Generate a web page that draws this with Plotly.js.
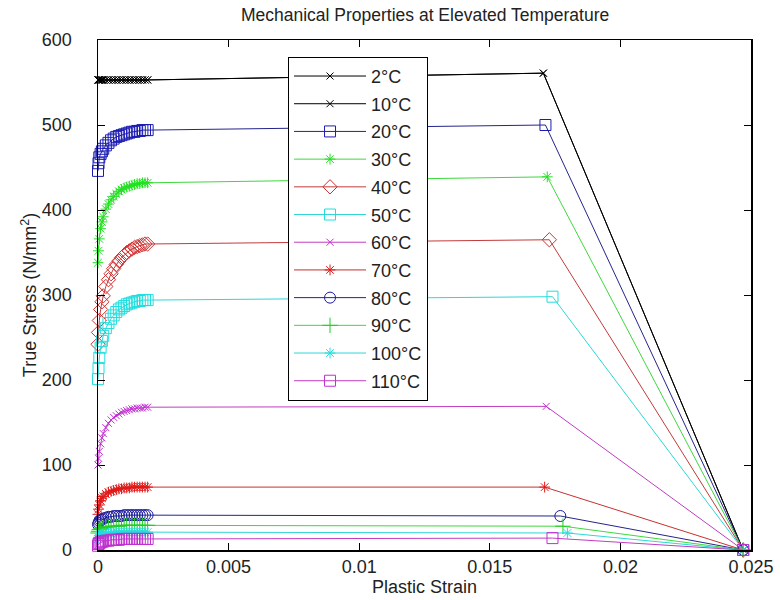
<!DOCTYPE html>
<html>
<head>
<meta charset="utf-8">
<script src="https://cdn.plot.ly/plotly-3.0.1.min.js"></script>
<style>html,body{margin:0;padding:0;background:#fff}#chart{width:780px;height:600px}</style>
</head>
<body>
<div id="chart"></div>
<script>
// Category labels
const labels = ["2°C","10°C","20°C","30°C","40°C","50°C","60°C","70°C","80°C","90°C","100°C","110°C"];

// Plastic strain of the early (hardening) points, shared by all series
const strainEarly = [0, 0.00002, 0.00005, 0.0001, 0.00015, 0.0002, 0.0003, 0.0004, 0.0005, 0.0006, 0.0007, 0.0008, 0.0009, 0.001, 0.0011, 0.0012, 0.0013, 0.0014, 0.0015, 0.0016, 0.0017, 0.0018, 0.0019];

// Early true stress values per temperature
const s2   = [553,553,553,553,553,553,553,553,553,553,553,553,553,553,553,553,553,553,553,553,553,553,553];
const s10  = [553,553,553,553,553,553,553,553,553,553,553,553,553,553,553,553,553,553,553,553,553,553,553];
const s20  = [446,455,462,466,469,472,476,479,482,484,486,487,488,489,490,491,492,492,493,493,494,494,494];
const s30  = [338,352,366,378,386,392,401,407,412,416,419,422,424,426,427,428,429,430,431,431,432,432,432];
const s40  = [242,256,270,283,292,299,310,318,325,331,336,340,344,347,350,352,354,356,357,358,359,360,360];
const s50  = [201,214,226,238,246,252,261,267,272,276,280,283,285,287,289,290,291,292,293,293,294,294,294];
const s60  = [100,108,116,125,132,137,144,149,153,156,158,160,162,163,164,165,166,166,167,167,167,168,168];
const s70  = [42,48,53,58,61,63,66,68,69,70,71,72,72,73,73,73,74,74,74,74,74,74,74];
const s80  = [30,32,34,35,36,37,38,39,39,40,40,40,40,41,41,41,41,41,41,41,41,41,41];
const s90  = [20,22,24,25,26,26,27,27,28,28,28,28,29,29,29,29,29,29,29,29,29,29,29];
const s100 = [13,15,17,18,19,19,20,20,20,21,21,21,21,21,21,21,21,21,21,21,21,21,21];
const s110 = [5,7,8,9,10,10,11,11,12,12,12,12,13,13,13,13,13,13,13,13,13,13,13];

// Late points: strain and stress at the end of the plateau, then failure point
const strainPlateauEnd = [0.01705, 0.01705, 0.01713, 0.0172, 0.01728, 0.0174, 0.01716, 0.0171, 0.0177, 0.0178, 0.01797, 0.0174];
const stressPlateauEnd = [561, 561, 500, 439, 365, 298, 169, 74, 40, 28, 20, 14];
const strainFailure = [0.0247, 0.0247, 0.0247, 0.0247, 0.0247, 0.0247, 0.0247, 0.0247, 0.0247, 0.0247, 0.0247, 0.0247];
const stressFailure = [0, 0, 0, 0, 0, 0, 0, 0, 0, 0, 0, 0];

const early = [s2, s10, s20, s30, s40, s50, s60, s70, s80, s90, s100, s110];

// Styles
const lineColors   = ["#000000","#000000","#24248c","#3ed83e","#c23b3b","#2fd6d6","#c23cc2","#c83030","#24248c","#3ed83e","#2fd6d6","#c23cc2"];
const markerColors = ["#000000","#000000","#1c1cb4","#22e022","#d03030","#22dede","#c030d0","#e01818","#1c1c9c","#22cc22","#22dede","#c030d0"];
const symbols = ["x-thin-open","x-thin-open","square-open","asterisk-open","diamond-open","square-open","x-thin-open","asterisk-open","circle-open","cross-thin-open","asterisk-open","square-open"];
const sizes   = [7,7,11,9,11,11,7,9,11,11,9,11];

const traces = labels.map((name, i) => ({
  type: "scatter",
  mode: "lines+markers",
  name: name,
  legendgroup: "g" + i,
  x: strainEarly.concat([strainPlateauEnd[i], strainFailure[i]]),
  y: early[i].concat([stressPlateauEnd[i], stressFailure[i]]),
  line: {color: lineColors[i], width: 1},
  marker: {symbol: symbols[i], size: sizes[i], color: markerColors[i], line: {color: markerColors[i], width: 1}},
  cliponaxis: false
}));

const font = {family: "Arial, 'Liberation Sans', sans-serif", color: "#222", size: 18};

const layout = {
  width: 780, height: 600,
  margin: {l: 98, r: 29, t: 40, b: 50},
  paper_bgcolor: "#fff", plot_bgcolor: "#fff",
  font: font,
  showlegend: true,
  title: {text: "Mechanical Properties at Elevated Temperature", font: {family: font.family, size: 17.5, color: "#222"}, x: 0.545, xanchor: "center", y: 0.985, yanchor: "top"},
  xaxis: {
    range: [0, 0.025], tickvals: [0, 0.005, 0.01, 0.015, 0.02, 0.025], ticktext: ["0","0.005","0.01","0.015","0.02","0.025"],
    ticks: "inside", ticklen: 7, tickcolor: "#000", showline: true, mirror: "ticks", linecolor: "#000", linewidth: 1.5,
    showgrid: false, zeroline: false, tickfont: {size: 18, color: "#222"},
    title: {text: "Plastic Strain", font: {size: 18, color: "#222"}, standoff: 4}
  },
  yaxis: {
    range: [0, 600], tickvals: [0,100,200,300,400,500,600],
    ticks: "inside", ticklen: 7, tickcolor: "#000", showline: true, mirror: "ticks", linecolor: "#000", linewidth: 1.5,
    showgrid: false, zeroline: false, tickfont: {size: 18, color: "#222"}, ticklabelstandoff: 21,
    title: {text: "True Stress (N/mm<sup>2</sup>)", font: {size: 18, color: "#222"}, standoff: 0}
  },
  legend: {
    x: 0.291, y: 0.967, xanchor: "left", yanchor: "top",
    bgcolor: "#fff", bordercolor: "#000", borderwidth: 1,
    font: {size: 18, color: "#222"}, traceorder: "grouped", tracegroupgap: 1.3,
    itemwidth: 72
  }
};

Plotly.newPlot("chart", traces, layout, {displayModeBar: false, staticPlot: true});
</script>
</body>
</html>
